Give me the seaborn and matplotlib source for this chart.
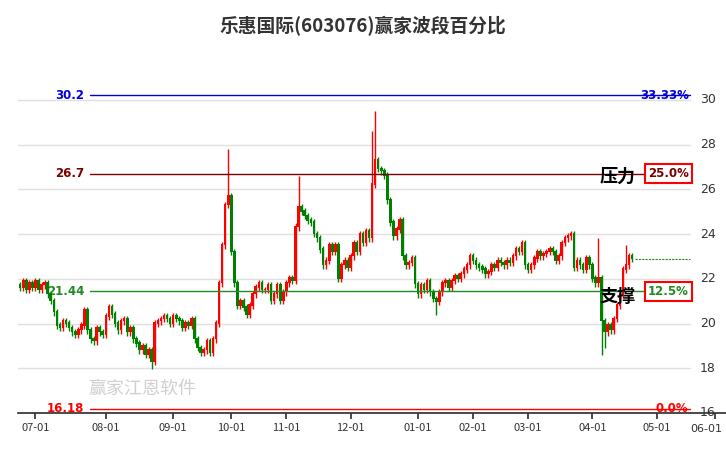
import matplotlib
matplotlib.use("Agg")
import matplotlib.pyplot as plt
import seaborn as sns
import pandas as pd
import numpy as np

sns.set_theme(style="white")
plt.rcParams['font.family'] = ['Noto Sans CJK SC', 'DejaVu Sans']

closes = [21.6, 21.9, 21.5, 21.8, 21.6,
          21.9, 21.5, 21.7, 21.8, 21.3, 21.0, 20.5, 19.9, 19.8, 20.1, 20.0, 19.8, 19.6, 19.5, 19.7, 19.9,
          20.6, 19.7, 19.3, 19.2, 19.8, 19.6, 19.5,
          20.3, 20.7, 20.4, 20.0, 19.7, 20.1, 20.2, 19.6, 19.8, 19.3, 19.1, 18.8, 19.0, 18.6, 18.8, 18.3,
          20.0, 20.1, 20.2, 20.3, 20.2, 20.0,
          20.3, 20.2, 20.1, 19.8, 20.0, 19.9, 20.2, 19.3, 18.9, 18.7, 18.8, 19.2, 18.7, 19.3, 20.0, 21.8,
          23.5, 25.3, 25.7,
          23.2, 21.8, 20.8, 21.0, 20.7, 20.4, 20.8, 21.3, 21.6, 21.8, 21.5, 21.5, 21.7, 21.0, 21.3, 21.7,
          21.0, 21.4,
          21.8, 22.0, 21.9, 24.3, 25.2, 25.0, 24.8, 24.6, 24.5, 24.0, 23.8, 23.3, 22.6, 22.8, 23.5, 23.2,
          23.5, 22.0, 22.6, 22.8, 22.5,
          23.0, 23.6, 23.2, 24.0, 23.6, 24.1, 23.8, 26.2, 27.3, 26.9, 26.8, 26.6, 25.5, 24.5, 23.9, 24.2,
          24.6, 23.0, 22.6, 22.7, 22.9,
          21.75, 21.3, 21.7, 21.5, 21.9, 21.4, 21.1, 20.96, 21.4, 21.8, 21.9, 21.6, 21.9, 22.1, 22.0, 22.2,
          22.4, 22.6,
          23.0, 22.8, 22.6, 22.5, 22.4, 22.2, 22.3, 22.6, 22.5, 22.8, 22.7, 22.6, 22.8, 22.7, 23.0, 23.3,
          23.2, 23.6,
          22.6, 22.4, 22.6, 22.9, 23.2, 23.0, 23.1, 23.2, 23.3, 23.2, 22.8, 23.0, 23.6, 23.8, 23.9, 24.0,
          22.5, 22.8, 22.6, 22.4, 22.9,
          22.6, 22.0, 21.8, 22.0, 20.1, 19.6, 19.9, 19.7, 20.2, 20.8, 21.3, 22.4, 22.6, 23.0, 22.9]
start_open = 21.7
big_highs = {68: 27.8, 90: 24.5, 91: 26.6, 115: 28.6, 116: 29.5, 189: 23.8, 198: 23.5}
big_lows = {43: 17.95, 136: 20.4, 190: 18.6, 191: 18.9}
month_ticks = ["07-01", "08-01", "09-01", "10-01", "11-01", "12-01", "01-01", "02-01", "03-01", "04-01", "05-01", "06-01"]
month_dates = ["2024-07-01", "2024-08-01", "2024-09-01", "2024-10-01", "2024-11-01", "2024-12-01",
               "2025-01-01", "2025-02-01", "2025-03-01", "2025-04-01", "2025-05-01", "2025-06-01"]
holidays = ["2024-09-16", "2024-09-17", "2024-10-01", "2024-10-02", "2024-10-03", "2024-10-04",
            "2024-10-07", "2025-01-01", "2025-01-28", "2025-01-29", "2025-01-30", "2025-01-31",
            "2025-02-03", "2025-02-04", "2025-04-04", "2025-05-01", "2025-05-02", "2025-05-05",
            "2025-06-02"]
levels = [30.2, 26.7, 21.44, 16.18]
level_pcts = ["33.33%", "25.0%", "12.5%", "0.0%"]
level_colors = ["#0000dd", "#7a0000", "#228b22", "#ff0000"]

cal = pd.bdate_range("2024-06-24", "2025-06-30")
cal = cal[~cal.isin(pd.to_datetime(holidays))]
c = np.array(closes)
x = np.arange(len(c))
o = np.concatenate([[start_open], c[:-1]])
hi = np.maximum(o, c) + 0.15
lo = np.minimum(o, c) - 0.15
for k, v in big_highs.items():
    hi[k] = v
for k, v in big_lows.items():
    lo[k] = v
tick_pos = [int(np.searchsorted(cal, pd.Timestamp(d))) for d in month_dates]

W, H = 726, 450
fig = plt.figure(figsize=(7.26, 4.5), dpi=100)
ax = fig.add_axes([18/W, 37/H, 708/W, 358/H])
xmin = -0.7
xmax = xmin + 708 / 3.06
ax.set_xlim(xmin, xmax)
ax.set_ylim(16, 32)
gfrac = 672 / 708
for yv in range(16, 31, 2):
    ax.axhline(yv, xmax=gfrac, color="#e0e0e0", lw=1, zorder=0)
    ax.text(0.963, yv, str(yv), transform=ax.get_yaxis_transform(), ha="left", va="center",
            fontsize=9, color="#333333", family="DejaVu Sans")
up = c >= o
cols = np.where(up, "#ff0000", "#008000")
ax.vlines(x, lo, hi, colors=cols, lw=1, zorder=3)
ax.bar(x, np.abs(c - o) + 0.06, bottom=np.minimum(o, c), width=0.85, color=cols, linewidth=0, zorder=4)
ax.hlines(c[-1], x[-1] + 0.8, xmin + 672 / 3.06, colors="#228b22", lw=0.8, linestyles=(0, (2, 1)), zorder=2)

x0 = (90 - 18) / 708
for lv, p, col in zip(levels, level_pcts, level_colors):
    ax.axhline(lv, xmin=x0, xmax=gfrac, color=col, lw=1, zorder=5)
    ax.text(x0 - 0.008, lv, f"{lv:g}", transform=ax.get_yaxis_transform(), ha="right", va="center",
            color=col, fontsize=8.5, fontweight="bold", family="DejaVu Sans")
    boxed = p in ("25.0%", "12.5%")
    ax.text(gfrac - 0.002, lv, p, transform=ax.get_yaxis_transform(), ha="right", va="center",
            color=col, fontsize=8.5, fontweight="bold", family="DejaVu Sans", zorder=6,
            bbox=dict(boxstyle="square,pad=0.25", fc="white", ec="red", lw=1.5) if boxed else None)
ax.text(0.872, 26.6, "压力", transform=ax.get_yaxis_transform(), ha="right", va="center",
        fontsize=13, fontweight="bold", color="black", zorder=6)
ax.text(0.872, 21.2, "支撑", transform=ax.get_yaxis_transform(), ha="right", va="center",
        fontsize=13, fontweight="bold", color="black", zorder=6)
ax.text(0.1, 0.055, "赢家江恩软件", transform=ax.transAxes, fontsize=13, color="#d0d0d0", zorder=1)

ax.set_yticks([])
ax.set_xticks(tick_pos)
ax.set_xticklabels(month_ticks[:-1] + [""])
ax.set_xlim(xmin, xmax)
ax.tick_params(axis="x", length=4, labelsize=8, colors="#333333", bottom=True)
fig.text(722 / W, 1 - 429 / H, month_ticks[-1], ha="right", va="center", fontsize=8, color="#333333",
         family="DejaVu Sans")
for s in ["top", "right", "left"]:
    ax.spines[s].set_visible(False)
ax.spines["bottom"].set_color("#333333")
fig.suptitle("乐惠国际(603076)赢家波段百分比", y=0.965, fontsize=13.5, fontweight="bold", color="#333333")
fig.savefig("out.png", dpi=100)
